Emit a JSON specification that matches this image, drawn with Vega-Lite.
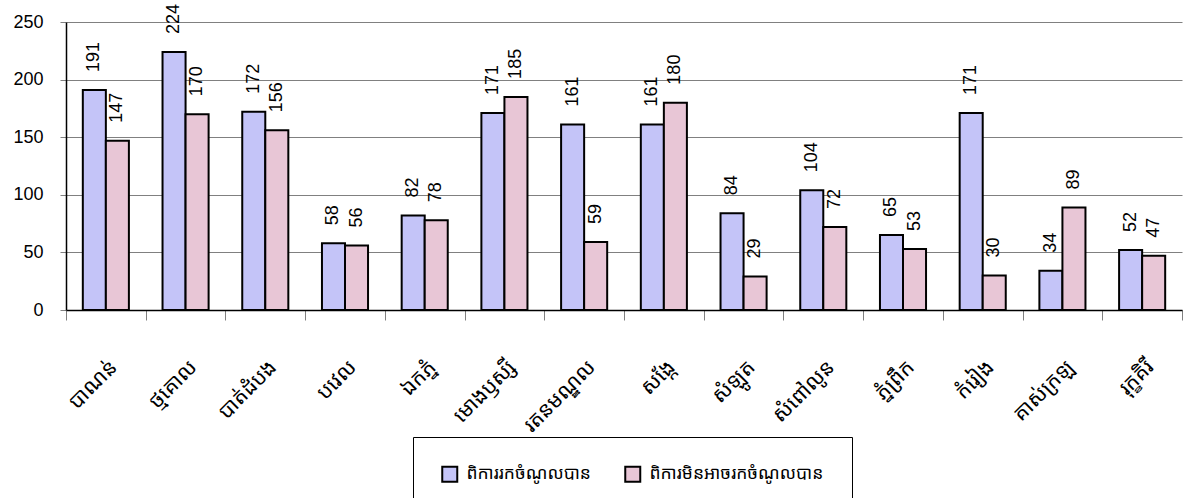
{
  "$schema": "https://vega.github.io/schema/vega-lite/v6.json",
  "width": 1116,
  "height": 288,
  "autosize": {"type": "none"},
  "padding": {"left": 66, "top": 22, "right": 2, "bottom": 188},
  "background": "white",
  "config": {
    "view": {"stroke": null},
    "font": "Liberation Sans",
    "axis": {"labelFont": "Liberation Sans", "labelColor": "#000"},
    "legend": {"labelFont": "Noto Sans Khmer, Khmer OS, Noto Sans"}
  },
  "data": {
    "values": [
      {"district": "បាណន់", "series": "ពិការរកចំណូលបាន", "value": 191},
      {"district": "ថ្មគោល", "series": "ពិការរកចំណូលបាន", "value": 224},
      {"district": "បាត់ដំបង", "series": "ពិការរកចំណូលបាន", "value": 172},
      {"district": "បវេល", "series": "ពិការរកចំណូលបាន", "value": 58},
      {"district": "ឯកភ្នំ", "series": "ពិការរកចំណូលបាន", "value": 82},
      {"district": "មោងឫស្សី", "series": "ពិការរកចំណូលបាន", "value": 171},
      {"district": "រតនមណ្ឌល", "series": "ពិការរកចំណូលបាន", "value": 161},
      {"district": "សង្កែ", "series": "ពិការរកចំណូលបាន", "value": 161},
      {"district": "សំឡូត", "series": "ពិការរកចំណូលបាន", "value": 84},
      {"district": "សំពៅលូន", "series": "ពិការរកចំណូលបាន", "value": 104},
      {"district": "ភ្នំព្រឹក", "series": "ពិការរកចំណូលបាន", "value": 65},
      {"district": "កំរៀង", "series": "ពិការរកចំណូលបាន", "value": 171},
      {"district": "គាស់ក្រឡ", "series": "ពិការរកចំណូលបាន", "value": 34},
      {"district": "រុក្ខគិរី", "series": "ពិការរកចំណូលបាន", "value": 52},
      {"district": "បាណន់", "series": "ពិការមិនអាចរកចំណូលបាន", "value": 147},
      {"district": "ថ្មគោល", "series": "ពិការមិនអាចរកចំណូលបាន", "value": 170},
      {"district": "បាត់ដំបង", "series": "ពិការមិនអាចរកចំណូលបាន", "value": 156},
      {"district": "បវេល", "series": "ពិការមិនអាចរកចំណូលបាន", "value": 56},
      {"district": "ឯកភ្នំ", "series": "ពិការមិនអាចរកចំណូលបាន", "value": 78},
      {"district": "មោងឫស្សី", "series": "ពិការមិនអាចរកចំណូលបាន", "value": 185},
      {"district": "រតនមណ្ឌល", "series": "ពិការមិនអាចរកចំណូលបាន", "value": 59},
      {"district": "សង្កែ", "series": "ពិការមិនអាចរកចំណូលបាន", "value": 180},
      {"district": "សំឡូត", "series": "ពិការមិនអាចរកចំណូលបាន", "value": 29},
      {"district": "សំពៅលូន", "series": "ពិការមិនអាចរកចំណូលបាន", "value": 72},
      {"district": "ភ្នំព្រឹក", "series": "ពិការមិនអាចរកចំណូលបាន", "value": 53},
      {"district": "កំរៀង", "series": "ពិការមិនអាចរកចំណូលបាន", "value": 30},
      {"district": "គាស់ក្រឡ", "series": "ពិការមិនអាចរកចំណូលបាន", "value": 89},
      {"district": "រុក្ខគិរី", "series": "ពិការមិនអាចរកចំណូលបាន", "value": 47}
    ]
  },
  "encoding": {
    "x": {
      "field": "district",
      "type": "nominal",
      "sort": null,
      "title": null,
      "scale": {"paddingInner": 0, "paddingOuter": 0},
      "axis": {
        "labelAngle": -45,
        "labelAlign": "right",
        "labelBaseline": "top",
        "labelFontSize": 21,
        "labelFont": "Noto Sans Khmer, Khmer OS, Noto Sans",
        "labelPadding": 36,
        "tickBand": "extent",
        "tickSize": 10,
        "tickColor": "#808080",
        "domainColor": "#000",
        "domainWidth": 1.5
      }
    },
    "xOffset": {
      "field": "series",
      "type": "nominal",
      "sort": ["ពិការរកចំណូលបាន", "ពិការមិនអាចរកចំណូលបាន"],
      "scale": {"paddingOuter": 0.73, "paddingInner": 0}
    },
    "y": {
      "field": "value",
      "type": "quantitative",
      "title": null,
      "scale": {"domain": [0, 250]},
      "axis": {
        "values": [0, 50, 100, 150, 200, 250],
        "labelFontSize": 18,
        "labelPadding": 17,
        "tickSize": 6,
        "tickColor": "#808080",
        "domainColor": "#000",
        "domainWidth": 1.5,
        "grid": true,
        "gridColor": "#808080",
        "gridWidth": 1
      }
    }
  },
  "layer": [
    {
      "mark": {"type": "bar", "stroke": "#000", "strokeWidth": 2, "opacity": 1},
      "encoding": {
        "color": {
          "field": "series",
          "type": "nominal",
          "scale": {
            "domain": ["ពិការរកចំណូលបាន", "ពិការមិនអាចរកចំណូលបាន"],
            "range": ["#c4c4f8", "#e8c6d6"]
          },
          "legend": {
            "title": null,
            "orient": "none",
            "legendX": 347,
            "legendY": 415,
            "direction": "horizontal",
            "strokeColor": "#000",
            "padding": 28,
            "labelFontSize": 17.5,
            "labelLimit": 400,
            "labelColor": "#000",
            "symbolType": "square",
            "symbolSize": 225,
            "symbolStrokeColor": "#000",
            "symbolStrokeWidth": 2,
            "symbolOpacity": 1,
            "columnPadding": 30,
            "labelOffset": 8
          }
        }
      }
    },
    {
      "mark": {
        "type": "text",
        "angle": 270,
        "align": "left",
        "baseline": "middle",
        "dx": 18,
        "fontSize": 18,
        "font": "Liberation Sans",
        "color": "#000"
      },
      "encoding": {
        "text": {"field": "value", "type": "quantitative"}
      }
    }
  ]
}
